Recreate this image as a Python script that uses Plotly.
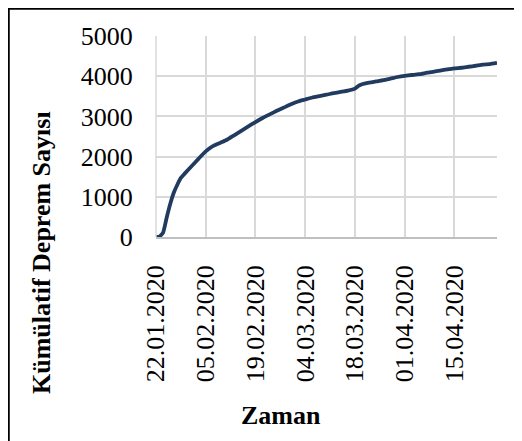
import plotly.graph_objects as go

dates = ["2020-01-22", "2020-01-23", "2020-01-24", "2020-01-25", "2020-01-26", "2020-01-27",
         "2020-01-28", "2020-01-29", "2020-01-30", "2020-02-01", "2020-02-03", "2020-02-05",
         "2020-02-07", "2020-02-09", "2020-02-11", "2020-02-13", "2020-02-15", "2020-02-17",
         "2020-02-19", "2020-02-21", "2020-02-23", "2020-02-25", "2020-02-27", "2020-02-29",
         "2020-03-02", "2020-03-04", "2020-03-06", "2020-03-08", "2020-03-10", "2020-03-12",
         "2020-03-14", "2020-03-16", "2020-03-18", "2020-03-19", "2020-03-20", "2020-03-22",
         "2020-03-24", "2020-03-26", "2020-03-28", "2020-03-30", "2020-04-01", "2020-04-03",
         "2020-04-05", "2020-04-07", "2020-04-09", "2020-04-11", "2020-04-13", "2020-04-15",
         "2020-04-17", "2020-04-19", "2020-04-21", "2020-04-23", "2020-04-25", "2020-04-27"]
cumulative = [0, 10, 110, 480, 820, 1100,
              1300, 1470, 1570, 1760, 1950, 2130,
              2260, 2340, 2420, 2530, 2640, 2750,
              2860, 2960, 3050, 3140, 3220, 3300,
              3370, 3420, 3470, 3505, 3540, 3580,
              3610, 3640, 3690, 3760, 3800, 3840,
              3870, 3900, 3940, 3980, 4010, 4030,
              4050, 4080, 4110, 4140, 4170, 4195,
              4210, 4235, 4260, 4290, 4300, 4330]

x_ticks = ["2020-01-22", "2020-02-05", "2020-02-19", "2020-03-04", "2020-03-18", "2020-04-01", "2020-04-15"]
y_ticks = [0, 1000, 2000, 3000, 4000, 5000]
x_title = "Zaman"
y_title = "Kümülatif Deprem Sayısı"

FF = "Liberation Serif"
tick_font = dict(family=FF, size=26, color="black")
title_font = dict(family=FF, size=26, color="black")

fig = go.Figure()
fig.add_trace(go.Scatter(
    x=dates, y=cumulative, mode="lines",
    line=dict(color="#203b5f", width=3.8, shape="spline", smoothing=0.4),
    showlegend=False,
))

# page has an 8px body margin; figure coords = page coords - 8
OFF = 8
W, H = 522 - OFF, 441 - OFF
L, T = 156 - OFF, 36 - OFF
R = W - (497 - OFF)
B = H - (237 - OFF)
pw, ph = W - L - R, H - T - B

fig.update_layout(
    width=W, height=H,
    margin=dict(l=L, r=R, t=T, b=B),
    paper_bgcolor="white", plot_bgcolor="white",
    font=dict(family=FF, color="black", size=26),
    xaxis=dict(
        type="date",
        range=["2020-01-22", "2020-04-27"],
        tickvals=x_ticks,
        tickformat="%d.%m.%Y",
        tickangle=-90,
        tickfont=tick_font,
        showgrid=True, gridcolor="#d9d9d9", gridwidth=1.5,
        showline=True, linecolor="#bfbfbf", linewidth=1.5,
        ticks="outside", ticklen=16, tickcolor="rgba(0,0,0,0)",
        zeroline=False, automargin=False,
    ),
    yaxis=dict(
        range=[0, 5000],
        tickvals=y_ticks,
        tickfont=tick_font,
        showgrid=True, gridcolor="#d9d9d9", gridwidth=1.5,
        showline=False,
        ticks="outside", ticklen=17, tickcolor="rgba(0,0,0,0)",
        zeroline=False, automargin=False,
    ),
)

def px_x(px):
    return (px - OFF - L) / pw

def px_y(py):
    return (H - B - (py - OFF)) / ph

fig.add_annotation(text="<b>" + x_title + "</b>", xref="paper", yref="paper",
                   x=px_x(281), y=px_y(415), showarrow=False, font=title_font,
                   xanchor="center", yanchor="middle")
fig.add_annotation(text="<b>" + y_title + "</b>", xref="paper", yref="paper",
                   x=px_x(41), y=px_y(253), showarrow=False, font=title_font,
                   textangle=-90, xanchor="center", yanchor="middle")

# left gray edge line at first date (as in reference)
fig.add_shape(type="line", xref="paper", yref="paper", x0=0, x1=0, y0=0, y1=1,
              line=dict(color="#d9d9d9", width=1.5))

# outer black frame (left/top edges visible)
fig.add_shape(type="rect", xref="paper", yref="paper",
              x0=px_x(8.5), x1=px_x(540), y0=px_y(460), y1=px_y(8.5),
              line=dict(color="black", width=2.5), fillcolor="rgba(0,0,0,0)", layer="below")

fig.write_html("out.html")
